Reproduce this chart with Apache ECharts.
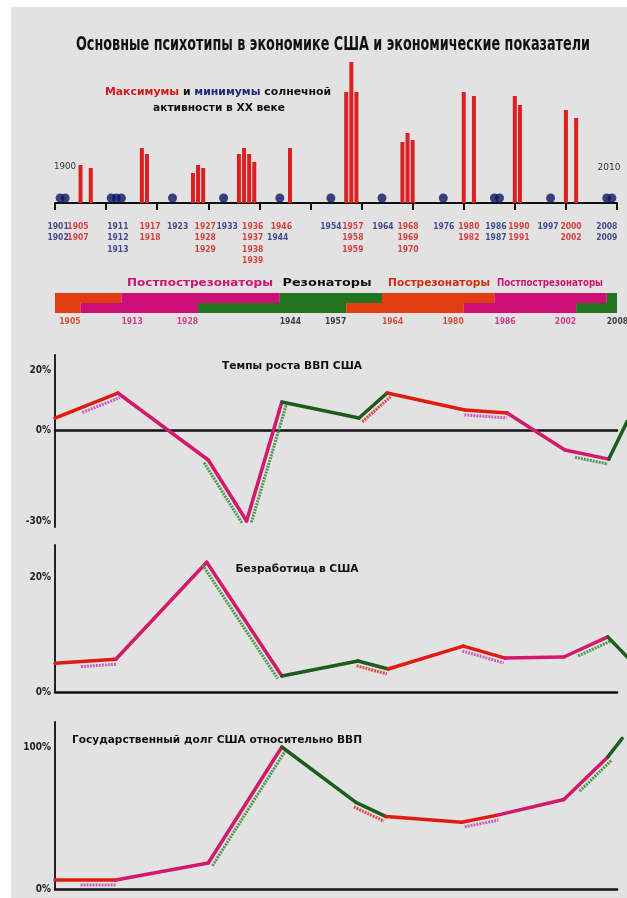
<!DOCTYPE html>
<html>
<head>
<meta charset="utf-8">
<script src="https://cdn.jsdelivr.net/npm/echarts@6/dist/echarts.min.js"></script>
<style>
html, body { margin: 0; padding: 0; background: #fff; }
#bg { position: absolute; left: 11px; top: 7px; width: 616px; height: 891px; background: #e2e2e2; }
#main { position: absolute; left: 0; top: 0; width: 627px; height: 898px; }
</style>
</head>
<body>
<div id="bg"></div>
<div id="main"></div>
<script>
// максимумы солнечной активности (столбики)
var maxYears = [1905, 1907, 1917, 1918, 1927, 1928, 1929, 1936, 1937, 1938, 1939, 1946,
  1957, 1958, 1959, 1968, 1969, 1970, 1980, 1982, 1990, 1991, 2000, 2002];
var maxValues = [38, 35, 55, 49, 30, 38, 35, 49, 55, 49, 41, 55,
  111, 141, 111, 61, 70, 63, 111, 107, 107, 98, 93, 85];
// минимумы (точки)
var minYears = [1901, 1902, 1911, 1912, 1913, 1923, 1933, 1944, 1954, 1964, 1976, 1986, 1987, 1997, 2008, 2009];

// подписи годов под осью: позиция, текст, тип
var yearLabelPos = [1900.6, 1904.5, 1912.3, 1918.6, 1924, 1929.4, 1933.7, 1938.7, 1944.3, 1943.6,
  1954, 1958.3, 1964.2, 1969.1, 1976.1, 1981, 1986.3, 1990.8, 1996.5, 2001, 2008];
var yearLabelText = ['1901\n1902', '1905\n1907', '1911\n1912\n1913', '1917\n1918', '1923',
  '1927\n1928\n1929', '1933', '1936\n1937\n1938\n1939', '1946', '\n1944',
  '1954', '1957\n1958\n1959', '1964', '1968\n1969\n1970', '1976', '1980\n1982',
  '1986\n1987', '1990\n1991', '1997', '2000\n2002', '2008\n2009'];
var yearLabelKind = ['min', 'max', 'min', 'max', 'min', 'max', 'min', 'max', 'max', 'min',
  'min', 'max', 'min', 'max', 'min', 'max', 'min', 'max', 'min', 'max', 'min'];

// психотипы: две полосы
var phaseNames = ['Пострезонаторы', 'Постпострезонаторы', 'Резонаторы'];
var upperBreaks = [1900, 1913, 1944, 1964, 1986, 2008, 2010];
var lowerBreaks = [1900, 1905, 1928, 1957, 1980, 2002, 2010];
var phaseKinds = [0, 1, 2, 0, 1, 2];

// показатели
var gdpYears = [1900, 1912.3, 1930, 1937.5, 1944.4, 1959.5, 1965, 1980.2, 1988.5, 1999.8, 2008.4, 2012];
var gdpValues = [4.1, 12.4, -9.8, -30, 9.4, 4.1, 12.4, 6.8, 5.8, -6.5, -9.5, 3];
var unempYears = [1900, 1911.9, 1929.7, 1944.4, 1959.3, 1965.2, 1979.9, 1988.1, 1999.6, 2008.2, 2012];
var unempValues = [5.0, 5.7, 22.6, 2.8, 5.4, 4.0, 8.0, 5.9, 6.1, 9.6, 6.1];
var debtYears = [1900, 1911.9, 1930, 1944.4, 1958.9, 1964.8, 1979.6, 1986.6, 1999.6, 2008.2, 2011];
var debtValues = [6.3, 6.3, 18.3, 100, 61, 51, 47, 52, 63, 93, 106];

var gdpTicks = [20, 0, -30];
var unempTicks = [0, 20];
var debtTicks = [0, 100];

var NARROW = '"Liberation Sans Narrow", "DejaVu Sans Condensed", "Arial Narrow", sans-serif';
var bandColors = ['#e23c12', '#cf0f78', '#237321'];
var lineColors = ['#e01c10', '#d4186c', '#1c5c1c'];
var shadowColors = ['#e24a44', '#c860c0', '#4f9a4f'];
var phaseTextColors = ['#d42a10', '#cc1477', '#111'];

var measureCtx = document.createElement('canvas').getContext('2d');
function fitText(text, x, y, font, width, fill, rich) {
  measureCtx.font = font;
  var plain = text.replace(/\{\w+\|([^}]*)\}/g, '$1');
  var w = measureCtx.measureText(plain).width;
  return {
    type: 'text', x: x, y: y, scaleX: width / w, z: 10,
    style: { text: text, font: font, fill: fill, textAlign: 'center', textVerticalAlign: 'middle', rich: rich }
  };
}

function kindAt(breaks, x) {
  for (var i = 0; i < breaks.length - 1; i++) {
    if (x >= breaks[i] && x < breaks[i + 1]) return phaseKinds[i];
  }
  return phaseKinds[phaseKinds.length - 1];
}

// линия показателя, цвет по верхней полосе, пунктирная тень по нижней
function lineSeries(idx, years, values) {
  return {
    type: 'custom', xAxisIndex: idx, yAxisIndex: idx, clip: false, z: 5,
    data: years.slice(0, -1).map(function (y, i) { return [y, values[i], years[i + 1], values[i + 1]]; }),
    renderItem: function (params, api) {
      var x0 = api.value(0), x1 = api.value(2);
      var a = api.coord([x0, api.value(1)]);
      var b = api.coord([x1, api.value(3)]);
      var kind = kindAt(upperBreaks, (x0 + x1) / 2);
      var dx = b[0] - a[0], dy = b[1] - a[1];
      var len = Math.sqrt(dx * dx + dy * dy);
      var nx = -dy / len * 5, ny = dx / len * 5;
      var children = [];
      for (var k = 0; k < lowerBreaks.length - 1; k++) {
        var s = Math.max(x0, lowerBreaks[k]), e = Math.min(x1, lowerBreaks[k + 1]);
        if (phaseKinds[k] === kind || (e - s) < 0.3 * (x1 - x0)) continue;
        var t0 = (s - x0) / (x1 - x0), t1 = (e - x0) / (x1 - x0);
        children.push({
          type: 'line',
          shape: { x1: a[0] + dx * t0 + nx, y1: a[1] + dy * t0 + ny, x2: a[0] + dx * t1 + nx, y2: a[1] + dy * t1 + ny },
          style: { stroke: shadowColors[phaseKinds[k]], lineWidth: 3, lineDash: [2, 1] }
        });
      }
      children.push({
        type: 'line', shape: { x1: a[0], y1: a[1], x2: b[0], y2: b[1] },
        style: { stroke: lineColors[kind], lineWidth: 3.5, lineCap: 'round' }
      });
      return { type: 'group', children: children };
    }
  };
}

function plainX(idx, showLine) {
  return {
    type: 'value', gridIndex: idx, min: 1900, max: 2010,
    axisLine: { show: showLine, onZero: true, lineStyle: { color: '#111', width: 2.5 } },
    axisTick: { show: false }, axisLabel: { show: false }, splitLine: { show: false }
  };
}
function pctY(idx, min, max, ticks) {
  return {
    type: 'value', gridIndex: idx, min: min, max: max,
    axisLine: { show: true, lineStyle: { color: '#222', width: 2 } },
    axisTick: { show: false }, splitLine: { show: false },
    axisLabel: { customValues: ticks, formatter: '{value}%', margin: 4, color: '#222',
      fontWeight: 'bold', fontSize: 10, fontFamily: NARROW }
  };
}

// полосы психотипов
var bandData = [];
for (var i = 0; i < phaseKinds.length; i++) {
  bandData.push([upperBreaks[i], upperBreaks[i + 1], 0, phaseKinds[i]]);
  bandData.push([lowerBreaks[i], lowerBreaks[i + 1], 1, phaseKinds[i]]);
}
var bandLabels = [];
for (var j = 1; j < phaseKinds.length; j++) {
  bandLabels.push({ value: [upperBreaks[j], 0], name: String(upperBreaks[j]),
    label: { align: 'left', color: phaseTextColors[phaseKinds[j]] } });
  bandLabels.push({ value: [lowerBreaks[j], 0], name: String(lowerBreaks[j]),
    label: { align: 'right', color: phaseTextColors[phaseKinds[j - 1]] } });
}

var chart = echarts.init(document.getElementById('main'));
chart.setOption({
  animation: false,
  grid: [
    { left: 55, right: 10, top: 53, height: 220 },
    { left: 55, right: 10, top: 293, height: 20 },
    { left: 55, right: 10, top: 355, height: 172 },
    { left: 55, right: 10, top: 545, height: 147 },
    { left: 55, right: 10, top: 722, height: 167 }
  ],
  xAxis: [
    {
      type: 'value', gridIndex: 0, min: 1900, max: 2010, interval: 10,
      axisLine: { onZero: true, lineStyle: { color: '#111', width: 2 } },
      axisTick: { show: true, length: 7, lineStyle: { color: '#111', width: 2 } },
      axisLabel: { show: false }, splitLine: { show: false }
    },
    plainX(1, false), plainX(2, true), plainX(3, true), plainX(4, true)
  ],
  yAxis: [
    { type: 'value', gridIndex: 0, min: -70, max: 150, show: false },
    { type: 'value', gridIndex: 1, min: 0, max: 2, show: false },
    pctY(2, -32, 25, gdpTicks),
    pctY(3, 0, 25.6, unempTicks),
    pctY(4, 0, 117.6, debtTicks)
  ],
  series: [
    {
      type: 'bar', xAxisIndex: 0, yAxisIndex: 0, barWidth: 4,
      itemStyle: { color: '#dd1f1f' },
      data: maxYears.map(function (y, i) { return [y, maxValues[i]]; })
    },
    {
      type: 'scatter', xAxisIndex: 0, yAxisIndex: 0, symbolSize: 9,
      itemStyle: { color: '#0d1766' },
      data: minYears.map(function (y) { return [y, 5]; })
    },
    {
      type: 'scatter', xAxisIndex: 0, yAxisIndex: 0, symbolSize: 0, silent: true,
      label: { show: true, position: 'bottom', distance: 18, formatter: '{b}', fontSize: 8.5,
        fontWeight: 'bold', fontFamily: NARROW, lineHeight: 11.5 },
      data: yearLabelPos.map(function (x, i) {
        return { value: [x, 0], name: yearLabelText[i],
          label: { color: yearLabelKind[i] === 'max' ? '#d41818' : '#1c2878' } };
      })
    },
    {
      type: 'custom', xAxisIndex: 1, yAxisIndex: 1, data: bandData,
      renderItem: function (params, api) {
        var row = api.value(2);
        var p0 = api.coord([api.value(0), 2 - row]);
        var p1 = api.coord([api.value(1), 1 - row]);
        return { type: 'rect', shape: { x: p0[0], y: p0[1], width: p1[0] - p0[0], height: p1[1] - p0[1] },
          style: { fill: bandColors[api.value(3)] } };
      }
    },
    {
      type: 'scatter', xAxisIndex: 1, yAxisIndex: 1, symbolSize: 0, silent: true,
      label: { show: true, position: 'bottom', distance: 4, formatter: '{b}', fontSize: 8.5,
        fontWeight: 'bold', fontFamily: NARROW },
      data: bandLabels
    },
    lineSeries(2, gdpYears, gdpValues),
    lineSeries(3, unempYears, unempValues),
    lineSeries(4, debtYears, debtValues)
  ],
  graphic: [
    fitText('Основные психотипы в экономике США и экономические показатели', 333, 45,
      'bold 20px ' + NARROW, 514, '#111'),
    fitText('{r|Максимумы} {k|и} {b|минимумы} {k|солнечной}', 218, 92, 'bold 11px ' + NARROW, 226, '#111',
      { r: { fill: '#d41818', font: 'bold 11px ' + NARROW }, b: { fill: '#1c2878', font: 'bold 11px ' + NARROW },
        k: { fill: '#111', font: 'bold 11px ' + NARROW } }),
    fitText('активности в XX веке', 219, 108, 'bold 11px ' + NARROW, 132, '#111'),
    fitText('1900', 65, 167, '9px ' + NARROW, 22, '#333'),
    fitText('2010', 609, 168, '9px ' + NARROW, 23, '#333'),
    fitText(phaseNames[1], 200, 283, 'bold 11px ' + NARROW, 146, phaseTextColors[1]),
    fitText(phaseNames[2], 327, 283, 'bold 11px ' + NARROW, 89, phaseTextColors[2]),
    fitText(phaseNames[0], 439, 283, 'bold 11px ' + NARROW, 102, phaseTextColors[0]),
    fitText(phaseNames[1], 550, 283, 'bold 11px ' + NARROW, 106, phaseTextColors[1]),
    fitText('Темпы роста ВВП США', 292, 366, 'bold 10px ' + NARROW, 140, '#111'),
    fitText('Безработица в США', 297, 569, 'bold 10px ' + NARROW, 123, '#111'),
    fitText('Государственный долг США относительно ВВП', 217, 740, 'bold 10px ' + NARROW, 290, '#111')
  ]
});
</script>
</body>
</html>
